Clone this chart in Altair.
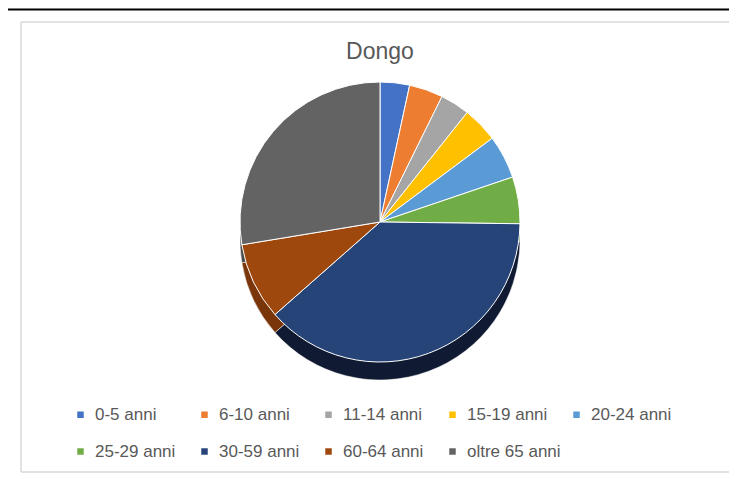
import altair as alt
import pandas as pd

categories = ["0-5 anni", "6-10 anni", "11-14 anni", "15-19 anni", "20-24 anni",
              "25-29 anni", "30-59 anni", "60-64 anni", "oltre 65 anni"]
values = [3.4, 3.9, 3.4, 4.1, 5.0, 5.4, 38.3, 8.9, 27.6]
colors = ["#4472C4", "#ED7D31", "#A5A5A5", "#FFC000", "#5B9BD5",
          "#70AD47", "#264478", "#9E480E", "#636363"]
side_colors = ["#34599A", "#B95F24", "#808080", "#C69500", "#4679A6",
               "#568637", "#101B33", "#7A360A", "#4B4B4B"]
title_text = ["Dongo"]

W, H = 721, 465
CX, CY, R, DEPTH = 372, 214, 140, 18

df = pd.DataFrame({"fascia": categories, "valore": values,
                   "ordine": list(range(len(categories))),
                   "lato": side_colors})

color_scale = alt.Scale(domain=categories, range=colors)

side = alt.Chart(df).mark_arc(radius=R, stroke="#FFFFFF", strokeWidth=0.5).encode(
    theta=alt.Theta("valore:Q", stack=True),
    order=alt.Order("ordine:Q"),
    color=alt.Color("lato:N", scale=None),
    x=alt.value(CX), y=alt.value(CY + DEPTH),
)

pie = alt.Chart(df).mark_arc(radius=R, stroke="#FFFFFF", strokeWidth=1).encode(
    theta=alt.Theta("valore:Q", stack=True),
    order=alt.Order("ordine:Q"),
    color=alt.Color("fascia:N", scale=color_scale, sort=categories,
                    legend=alt.Legend(title=None, orient="none", legendX=64, legendY=398,
                                      direction="horizontal", columns=5, gridAlign="all",
                                      symbolType="square", symbolSize=42, symbolStrokeWidth=0,
                                      labelFont="Liberation Sans", labelFontSize=17,
                                      labelColor="#595959", labelOffset=6,
                                      columnPadding=7, rowPadding=19, labelLimit=200)),
    x=alt.value(CX), y=alt.value(CY),
)

one = pd.DataFrame({"t": title_text})

title = alt.Chart(one).mark_text(font="Liberation Sans", fontSize=23, color="#595959",
                                 baseline="middle", align="center").encode(
    text="t:N", x=alt.value(CX), y=alt.value(44))

box_left = alt.Chart(one).mark_rule(color="#D9D9D9", strokeWidth=1.5).encode(
    x=alt.value(13), y=alt.value(14), y2=alt.value(H - 1))
box_top = alt.Chart(one).mark_rule(color="#D9D9D9", strokeWidth=1.5).encode(
    x=alt.value(13), x2=alt.value(W), y=alt.value(14))
box_bottom = alt.Chart(one).mark_rule(color="#D9D9D9", strokeWidth=1.5).encode(
    x=alt.value(13), x2=alt.value(W), y=alt.value(H - 1))
black_top = alt.Chart(one).mark_rule(color="#000000", strokeWidth=2).encode(
    x=alt.value(0), x2=alt.value(W), y=alt.value(1.5))

chart = alt.layer(box_left, box_top, box_bottom, black_top, side, pie, title).properties(
    width=W, height=H, padding=0, autosize=alt.AutoSizeParams(type="none"),
    background="#FFFFFF",
).configure_view(stroke=None)

chart.save("out.html", embed_options={"renderer": "svg", "actions": False})
